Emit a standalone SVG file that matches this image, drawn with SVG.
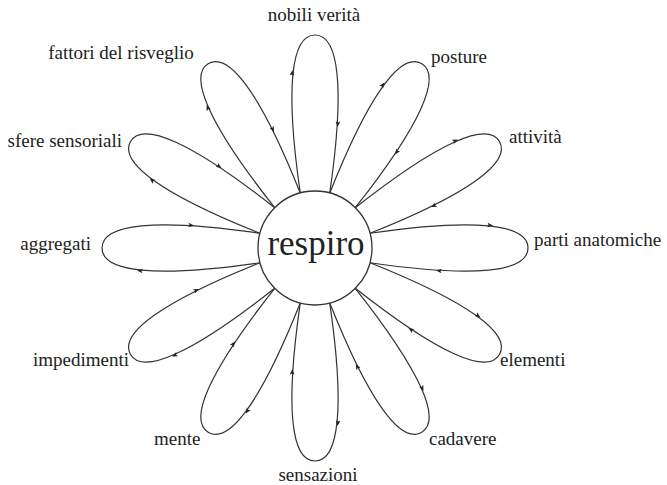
<svg xmlns="http://www.w3.org/2000/svg" xmlns:xlink="http://www.w3.org/1999/xlink" width="667" height="485" viewBox="0 0 667 485">
<style>
.petal{fill:none;stroke:#333;stroke-width:1.2}
.ah{fill:#222;stroke:none}
.lbl{font-family:"Liberation Serif","Times New Roman",serif;font-size:19px;fill:#222}
.hub{fill:#fff;stroke:#333;stroke-width:1.3}
.hubt{font-family:"Liberation Serif","Times New Roman",serif;font-size:35px;fill:#222;text-anchor:middle}
</style>
<defs>
<path id="arr" class="ah" d="M3,0 L-2.6,-2.3 L-1.4,0 L-2.6,2.3 Z"/>
<g id="petal">
<path class="petal" d="M55.06,-14.75 C160,-30 213,-24 213,0 C213,24 160,30 55.06,14.75"/>
<use xlink:href="#arr" href="#arr" transform="translate(175,-22.8) rotate(6)"/>
<use xlink:href="#arr" href="#arr" transform="translate(124,22.8) rotate(184)"/>
</g>
</defs>
<g id="connectors" transform="translate(315,248)">
<use id="p-nobili" href="#petal" xlink:href="#petal" transform="rotate(-90)"/>
<use id="p-posture" href="#petal" xlink:href="#petal" transform="rotate(-60)"/>
<use id="p-attivita" href="#petal" xlink:href="#petal" transform="rotate(-30)"/>
<use id="p-parti" href="#petal" xlink:href="#petal" transform="rotate(0)"/>
<use id="p-elementi" href="#petal" xlink:href="#petal" transform="rotate(30)"/>
<use id="p-cadavere" href="#petal" xlink:href="#petal" transform="rotate(60)"/>
<use id="p-sensazioni" href="#petal" xlink:href="#petal" transform="rotate(90)"/>
<use id="p-mente" href="#petal" xlink:href="#petal" transform="rotate(120)"/>
<use id="p-impedimenti" href="#petal" xlink:href="#petal" transform="rotate(150)"/>
<use id="p-aggregati" href="#petal" xlink:href="#petal" transform="rotate(180)"/>
<use id="p-sfere" href="#petal" xlink:href="#petal" transform="rotate(210)"/>
<use id="p-fattori" href="#petal" xlink:href="#petal" transform="rotate(240)"/>
</g>
<g id="respiro">
<circle class="hub" cx="315" cy="248" r="57"/>
<text class="hubt" x="316" y="255">respiro</text>
</g>
<g id="nobili-verita"><text class="lbl" x="314" y="21" text-anchor="middle">nobili verità</text></g>
<g id="posture"><text class="lbl" x="431" y="63">posture</text></g>
<g id="attivita"><text class="lbl" x="509" y="143">attività</text></g>
<g id="parti-anatomiche"><text class="lbl" x="534" y="246">parti anatomiche</text></g>
<g id="elementi"><text class="lbl" x="500" y="366">elementi</text></g>
<g id="cadavere"><text class="lbl" x="429" y="445">cadavere</text></g>
<g id="sensazioni"><text class="lbl" x="318" y="481" text-anchor="middle">sensazioni</text></g>
<g id="mente"><text class="lbl" x="154" y="445">mente</text></g>
<g id="impedimenti"><text class="lbl" x="129" y="366" text-anchor="end">impedimenti</text></g>
<g id="aggregati"><text class="lbl" x="91" y="250" text-anchor="end">aggregati</text></g>
<g id="sfere-sensoriali"><text class="lbl" x="122" y="147" text-anchor="end">sfere sensoriali</text></g>
<g id="fattori-del-risveglio"><text class="lbl" x="121" y="59" text-anchor="middle">fattori del risveglio</text></g>
</svg>
